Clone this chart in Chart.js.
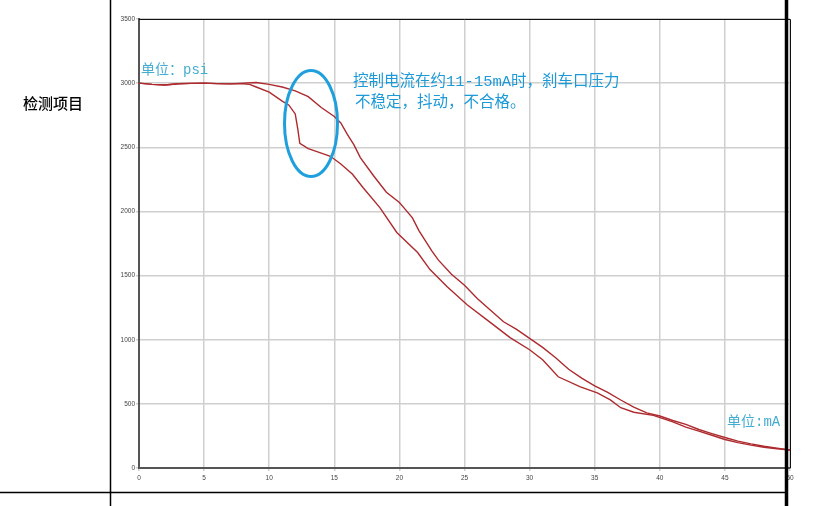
<!DOCTYPE html>
<html>
<head>
<meta charset="utf-8">
<script src="https://cdn.jsdelivr.net/npm/chart.js@4.4.0/dist/chart.umd.min.js"></script>
<style>
  html, body { margin: 0; padding: 0; background: #fff; }
  #wrap { position: relative; width: 822px; height: 506px; }
</style>
</head>
<body>
<div id="wrap"><canvas id="brake_chart" width="822" height="506"></canvas></div>
<script>
// curve: upper branch (mA -> psi)
var upperCurrent  = [0, 1, 2, 3, 4, 5, 6, 7, 8, 9, 10, 11, 12, 13, 14, 15, 15.5, 16, 16.5, 17, 18, 19, 20, 20.5, 21, 21.5, 22, 22.5, 23, 24, 25, 26, 27, 28, 29, 30, 31, 32, 33, 34, 35, 36, 37, 38, 39, 40, 41, 42, 43, 44, 45, 46, 47, 48, 49, 50];
var upperPressure = [3000, 2990, 2985, 2995, 2998, 3000, 2996, 2994, 3000, 3005, 2990, 2970, 2940, 2895, 2810, 2740, 2690, 2600, 2520, 2420, 2280, 2150, 2070, 2010, 1950, 1850, 1770, 1690, 1620, 1510, 1425, 1320, 1230, 1140, 1080, 1010, 940, 860, 770, 700, 640, 590, 530, 475, 430, 405, 370, 340, 300, 268, 238, 210, 188, 170, 155, 140];

// lower branch
var lowerCurrent  = [0, 1, 2, 3, 4, 5, 6, 7, 8, 8.5, 9, 10, 11, 11.5, 12, 12.2, 12.35, 13, 14, 14.7, 15.5, 16.4, 17.2, 18.5, 19.8, 21.4, 22.35, 23.65, 25.2, 27, 28.5, 30, 31, 32.2, 33.9, 35.2, 36.2, 37, 38, 39.5, 41, 42, 43, 44, 45, 46, 47, 48, 49, 50];
var lowerPressure = [3000, 2990, 2985, 2995, 2998, 3000, 2996, 2994, 2995, 2990, 2970, 2930, 2860, 2830, 2760, 2640, 2530, 2490, 2455, 2430, 2370, 2290, 2187, 2030, 1836, 1680, 1547, 1414, 1273, 1133, 1016, 922, 844, 711, 633, 586, 531, 470, 435, 410, 360, 318, 288, 255, 222, 198, 178, 162, 150, 140];

var yTicks = [0, 500, 1000, 1500, 2000, 2500, 3000, 3500];
var xTicks = [0, 5, 10, 15, 20, 25, 30, 35, 40, 45, 50];

var noteLines = ["控制电流在约11-15mA时，刹车口压力", "不稳定，抖动，不合格。"];

function toPoints(xs, ys){
  var pts = [];
  for (var i = 0; i < xs.length; i++) {
    pts.push({x: xs[i], y: ys[i]});
  }
  return pts;
}

var decorations = {
  id: 'decorations',
  afterDraw: function(chart){
    var ctx = chart.ctx, a = chart.chartArea;
    ctx.save();
    // frame top / right
    ctx.strokeStyle = '#111';
    ctx.lineWidth = 1;
    ctx.beginPath();
    ctx.moveTo(a.left, a.top + 0.5);
    ctx.lineTo(a.right + 0.5, a.top + 0.5);
    ctx.lineTo(a.right + 0.5, a.bottom);
    ctx.stroke();

    // table lines
    ctx.strokeStyle = '#000';
    ctx.lineWidth = 1.5;
    ctx.beginPath();
    ctx.moveTo(110.5, 0); ctx.lineTo(110.5, 506);
    ctx.moveTo(0, 492.5); ctx.lineTo(786, 492.5);
    ctx.stroke();
    ctx.lineWidth = 3.5;
    ctx.beginPath();
    ctx.moveTo(786.5, 0); ctx.lineTo(786.5, 506);
    ctx.stroke();

    ctx.fillStyle = '#000';
    ctx.font = '500 15px "Noto Sans CJK SC"';
    ctx.textBaseline = 'middle';
    ctx.textAlign = 'left';
    ctx.fillText('检测项目', 23, 103);

    // unit labels
    ctx.fillStyle = '#45acd2';
    ctx.font = '14px "Liberation Mono", "Noto Sans CJK SC"';
    ctx.fillText('单位：psi', 141, 70);
    ctx.fillText('单位:mA', 727, 422);

    // note
    ctx.fillStyle = '#1c9ad8';
    ctx.font = '15.5px "Liberation Mono", "Noto Sans CJK SC"';
    ctx.fillText(noteLines[0], 353, 82);
    ctx.fillText(noteLines[1], 355, 103);

    // ellipse around the unstable zone
    ctx.strokeStyle = '#1fa0dc';
    ctx.lineWidth = 3;
    ctx.beginPath();
    ctx.ellipse(311, 123.5, 26.5, 53, 0, 0, Math.PI * 2);
    ctx.stroke();
    ctx.restore();
  }
};

var chartctx = document.getElementById("brake_chart");
var brakechart = new Chart(chartctx, {
  type: 'line',
  data: {
    datasets: [
      {
        label: "upper",
        data: toPoints(upperCurrent, upperPressure),
        borderColor: "#ad2a2e",
        borderWidth: 1.4,
        pointRadius: 0,
        fill: false,
        tension: 0
      },
      {
        label: "lower",
        data: toPoints(lowerCurrent, lowerPressure),
        borderColor: "#ad2a2e",
        borderWidth: 1.4,
        pointRadius: 0,
        fill: false,
        tension: 0
      }
    ]
  },
  options: {
    responsive: false,
    animation: false,
    events: [],
    layout: { padding: { left: 110, top: 19, right: 32, bottom: 18 } },
    plugins: { legend: { display: false }, tooltip: { enabled: false } },
    scales: {
      x: {
        type: 'linear',
        min: 0, max: 50,
        afterBuildTicks: function(scale){ scale.ticks = xTicks.map(function(v){ return {value: v}; }); },
        afterFit: function(scale){ scale.height = 20; },
        ticks: { font: { family: 'Arial', size: 6.5 }, color: '#444', padding: 3, maxRotation: 0, autoSkip: false,
                 callback: function(v){ return String(v); } },
        grid: { color: '#cfcfcf', lineWidth: 1.5, tickLength: 3 },
        border: { color: '#555', width: 2 }
      },
      y: {
        min: 0, max: 3500,
        afterBuildTicks: function(scale){ scale.ticks = yTicks.map(function(v){ return {value: v}; }); },
        afterFit: function(scale){ scale.width = 29; },
        ticks: { font: { family: 'Arial', size: 6.5 }, color: '#444', padding: 1, autoSkip: false,
                 callback: function(v){ return String(v); } },
        grid: { color: '#cfcfcf', lineWidth: 1.5, tickLength: 3 },
        border: { color: '#555', width: 2 }
      }
    }
  },
  plugins: [decorations]
});
</script>
</body>
</html>
